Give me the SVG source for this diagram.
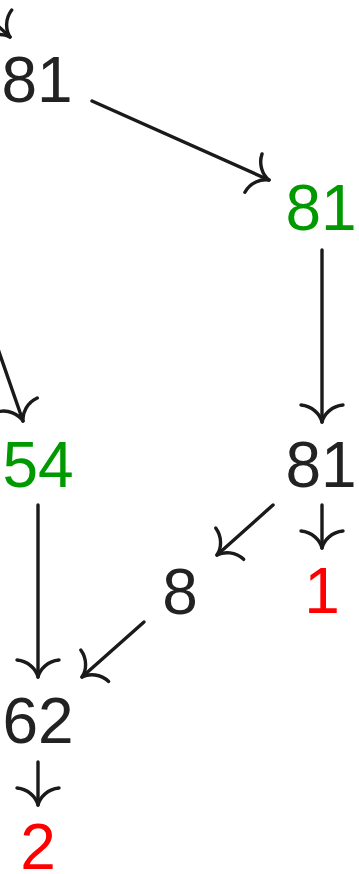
<svg xmlns="http://www.w3.org/2000/svg" width="359" height="874" viewBox="0 0 359 874">
<style>
text{font-family:"Liberation Sans","DejaVu Sans",sans-serif;font-size:64px;text-anchor:middle}
.k{fill:#222222}.g{fill:#009900}.r{fill:#ff0000}
.e{fill:none;stroke:#1a1a1a;stroke-width:3.4;stroke-linecap:round;marker-end:url(#ah)}
</style>
<defs>
<marker id="ah" markerUnits="userSpaceOnUse" orient="auto" overflow="visible" markerWidth="1" markerHeight="1" refX="0" refY="0">
<path d="M-17,-21 C-16,-10 -8,-2 0,0 M-17,21 C-16,10 -8,2 0,0" fill="none" stroke="#1a1a1a" stroke-width="3.4" stroke-linecap="round"/>
</marker>
</defs>
<g id="edges">
<line class="e" x1="-15" y1="14" x2="10" y2="37"/>
<line class="e" x1="92" y1="101" x2="269" y2="180"/>
<line class="e" x1="-10" y1="326" x2="23" y2="421"/>
<line class="e" x1="322" y1="250" x2="322" y2="422"/>
<line class="e" x1="38" y1="505" x2="38" y2="677"/>
<line class="e" x1="322" y1="505" x2="322" y2="548"/>
<line class="e" x1="273" y1="505" x2="217" y2="555"/>
<line class="e" x1="144" y1="622" x2="82" y2="677"/>
<line class="e" x1="38" y1="762" x2="38" y2="805"/>
</g>
<g id="n81a"><text class="k" x="37" y="102">81</text></g>
<g id="n81g"><text class="g" x="321" y="230">81</text></g>
<g id="n54"><text class="g" x="38" y="487">54</text></g>
<g id="n81b"><text class="k" x="321" y="487">81</text></g>
<g id="n8"><text class="k" x="180" y="614">8</text></g>
<g id="n1"><text class="r" x="322" y="613">1</text></g>
<g id="n62"><text class="k" x="38" y="743">62</text></g>
<g id="n2"><text class="r" x="38" y="869">2</text></g>
</svg>
